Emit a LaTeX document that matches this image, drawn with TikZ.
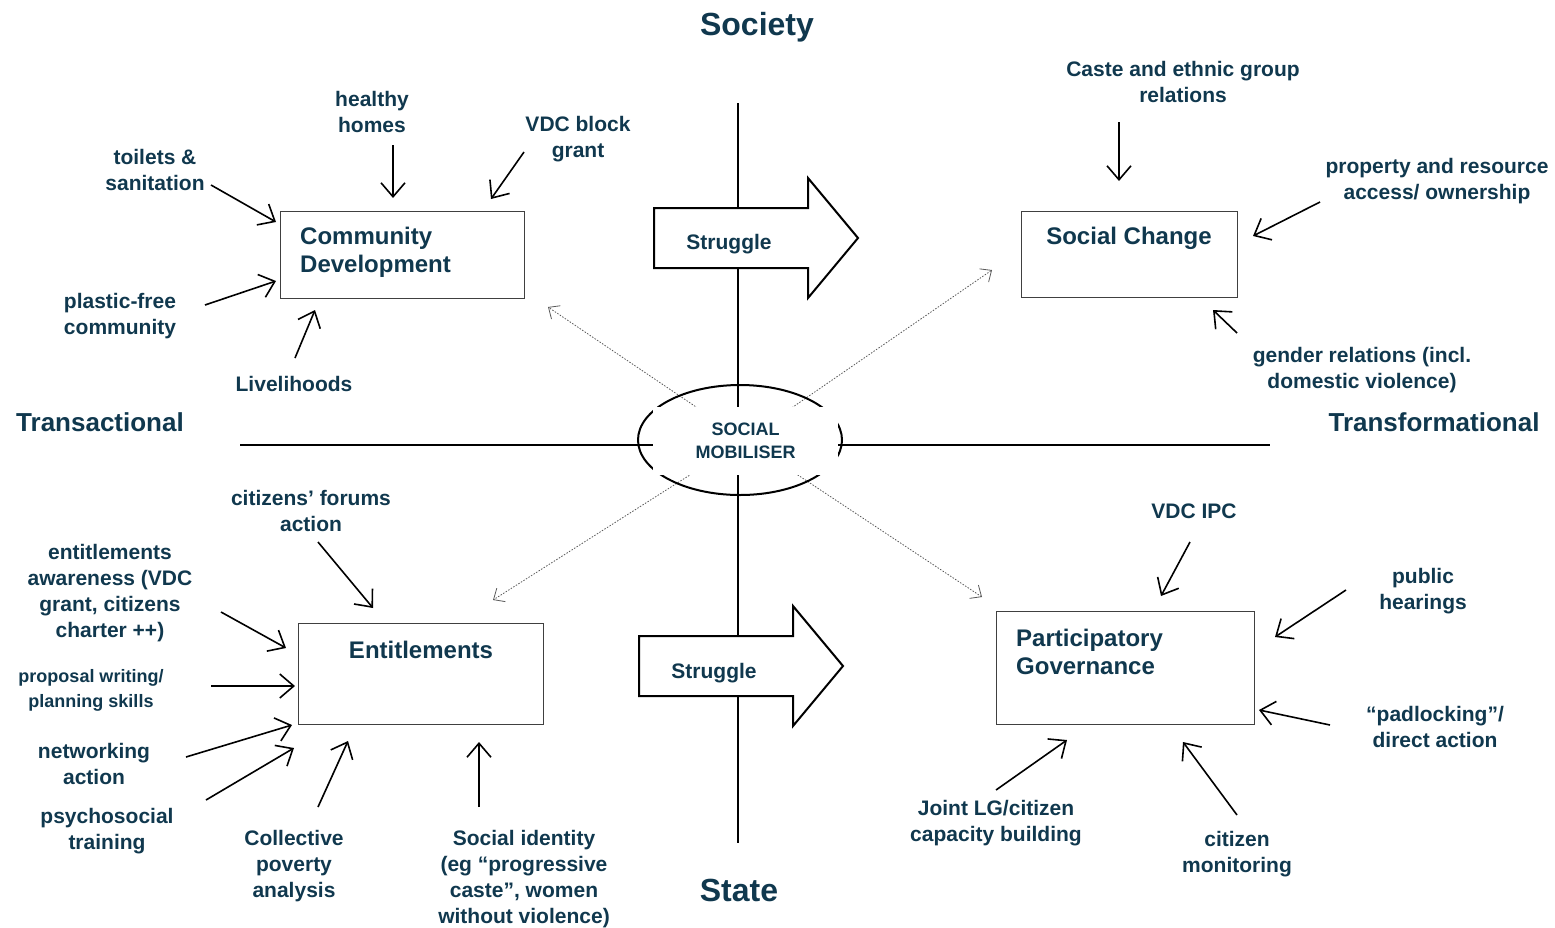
\documentclass[tikz,border=0pt]{standalone}
\usepackage{fontspec}
\setmainfont{Liberation Sans}
\usetikzlibrary{arrows.meta}
\definecolor{inkblue}{RGB}{16,56,78}

\begin{document}
\begin{tikzpicture}[x=1pt,y=-1pt]
\tikzset{box/.style = {draw=black!75, line width=1pt, fill=white, inner sep=0pt}}
\tikzset{boxtext/.style = {text=inkblue, font=\bfseries\fontsize{24}{28}\selectfont, inner sep=0pt, yshift=-1pt}}
\tikzset{lbl/.style = {text=inkblue, font=\bfseries\fontsize{21}{26}\selectfont, align=center, inner sep=0pt, yshift=-2pt}}
\tikzset{head/.style = {text=inkblue, font=\bfseries\fontsize{32}{38}\selectfont, inner sep=0pt, yshift=-3pt}}
\tikzset{side/.style = {text=inkblue, font=\bfseries\fontsize{26}{30}\selectfont, inner sep=0pt, yshift=-1pt}}
\tikzset{axis/.style = {line width=2pt}}
\tikzset{feed/.style = {line width=1.6pt, -{Straight Barb[length=14pt,width=24pt]}}}
\tikzset{reach/.style = {draw=black!65, line width=0.8pt, dash pattern=on 1.5pt off 1.5pt, -{Straight Barb[length=9pt,width=16pt,line width=0.8pt]}}}
\tikzset{struggle/.style = {draw, line width=2pt, fill=white}}

\useasboundingbox (0,0) rectangle (1555,927);

% axes
\coordinate (top) at (738,103);
\coordinate (bot) at (738,843);
\coordinate (left) at (240,445);
\coordinate (right) at (1270,445);
\draw[axis] (top) -- (bot);
\draw[axis] (left) -- (right);

\node[head] (society) at (757,24) {Society};
\node[head] (state) at (739,887) {State};
\node[side] (transac) at (100,421) {Transactional};
\node[side] (transf) at (1434,421) {Transformational};

% four boxes
\node[box, minimum width=244pt, minimum height=87pt] (cd) at (402,254.5) {};
\node[boxtext, align=left, anchor=west] (cdtxt) at (300,251) {Community\\Development};
\node[box, minimum width=216pt, minimum height=86pt] (sc) at (1129,254) {};
\node[boxtext] (sctxt) at (1129,237) {Social Change};
\node[box, minimum width=245pt, minimum height=101pt] (ent) at (420.5,673.5) {};
\node[boxtext] (enttxt) at (421,649) {Entitlements};
\node[box, minimum width=258pt, minimum height=113pt] (pg) at (1125,667.5) {};
\node[boxtext, align=left, anchor=west] (pgtxt) at (1016,651) {Participatory\\Governance};

% dotted reach from the mobiliser
\coordinate (smc) at (745,440);
\coordinate (cdtip) at (548,307);
\coordinate (sctip) at (992,270);
\coordinate (enttip) at (493,600);
\coordinate (pgtip) at (982,597);
\draw[reach] (smc) -- (cdtip);
\draw[reach] (smc) -- (sctip);
\draw[reach] (smc) -- (enttip);
\draw[reach] (smc) -- (pgtip);

% struggle arrows
\draw[struggle] (654,208) -- (808,208) -- (808,178) -- (858,238) -- (808,298) -- (808,268) -- (654,268) -- cycle;
\node[lbl] (str1) at (729,242) {Struggle};
\draw[struggle] (639,636) -- (793,636) -- (793,606) -- (843,666) -- (793,726) -- (793,696) -- (639,696) -- cycle;
\node[lbl] (str2) at (714,671) {Struggle};

% social mobiliser
\draw[line width=2pt] (740,440) ellipse [x radius=102, y radius=55];
\node[fill=white, text=inkblue, font=\bfseries\fontsize{18}{23}\selectfont, align=center, minimum width=185pt, minimum height=68pt, inner sep=0pt] (sm) at (745.5,441) {SOCIAL\\MOBILISER};

% community development inputs
\node[lbl] (homes) at (372,110) {healthy\\homes};
\node[lbl] (grant) at (578,137) {VDC block\\grant};
\node[lbl] (toilets) at (155,168) {toilets \&\\sanitation};
\node[lbl] (plastic) at (120,314) {plastic-free\\community};
\node[lbl] (liveli) at (294,382) {Livelihoods};
\coordinate (homes1) at (393,145); \coordinate (homes2) at (393,198);
\coordinate (grant1) at (524,152); \coordinate (grant2) at (491,199);
\coordinate (toilets1) at (211,185); \coordinate (toilets2) at (276,222);
\coordinate (plastic1) at (205,305); \coordinate (plastic2) at (276,281);
\coordinate (liveli1) at (295,358); \coordinate (liveli2) at (315,310);
\draw[feed] (homes1) -- (homes2);
\draw[feed] (grant1) -- (grant2);
\draw[feed] (toilets1) -- (toilets2);
\draw[feed] (plastic1) -- (plastic2);
\draw[feed] (liveli1) -- (liveli2);

% social change inputs
\node[lbl] (caste) at (1183,80) {Caste and ethnic group\\relations};
\node[lbl] (property) at (1437,179) {property and resource\\access/ ownership};
\node[lbl] (gender) at (1362,368) {gender relations (incl.\\domestic violence)};
\coordinate (caste1) at (1119,122); \coordinate (caste2) at (1119,181);
\coordinate (property1) at (1320,202); \coordinate (property2) at (1253,236);
\coordinate (gender1) at (1237,333); \coordinate (gender2) at (1213,310);
\draw[feed] (caste1) -- (caste2);
\draw[feed] (property1) -- (property2);
\draw[feed] (gender1) -- (gender2);

% entitlements inputs
\node[lbl] (forums) at (311,509) {citizens’ forums\\action};
\node[lbl] (aware) at (110,591) {entitlements\\awareness (VDC\\grant, citizens\\charter ++)};
\node[lbl, font=\bfseries\fontsize{18}{25}\selectfont] (proposal) at (91,688) {proposal writing/\\planning skills};
\node[lbl] (network) at (94,762) {networking\\action};
\node[lbl] (psycho) at (107,829) {psychosocial\\training};
\node[lbl] (poverty) at (294,864) {Collective\\poverty\\analysis};
\node[lbl] (identity) at (524,877) {Social identity\\(eg “progressive\\caste”, women\\without violence)};
\coordinate (forums1) at (318,542); \coordinate (forums2) at (373,608);
\coordinate (aware1) at (221,612); \coordinate (aware2) at (286,648);
\coordinate (proposal1) at (211,686); \coordinate (proposal2) at (295,686);
\coordinate (network1) at (186,757); \coordinate (network2) at (292,725);
\coordinate (psycho1) at (206,800); \coordinate (psycho2) at (294,748);
\coordinate (poverty1) at (318,807); \coordinate (poverty2) at (348,741);
\coordinate (identity1) at (479,807); \coordinate (identity2) at (479,742);
\draw[feed] (forums1) -- (forums2);
\draw[feed] (aware1) -- (aware2);
\draw[feed] (proposal1) -- (proposal2);
\draw[feed] (network1) -- (network2);
\draw[feed] (psycho1) -- (psycho2);
\draw[feed] (poverty1) -- (poverty2);
\draw[feed] (identity1) -- (identity2);

% participatory governance inputs
\node[lbl] (ipc) at (1194,509) {VDC IPC};
\node[lbl] (hearings) at (1423,589) {public\\hearings};
\node[lbl] (padlock) at (1435,725) {“padlocking”/\\direct action};
\node[lbl] (joint) at (996,821) {Joint LG/citizen\\capacity building};
\node[lbl] (monitor) at (1237,852) {citizen\\monitoring};
\coordinate (ipc1) at (1190,542); \coordinate (ipc2) at (1161,596);
\coordinate (hearings1) at (1346,590); \coordinate (hearings2) at (1275,637);
\coordinate (padlock1) at (1330,725); \coordinate (padlock2) at (1259,710);
\coordinate (joint1) at (996,790); \coordinate (joint2) at (1067,740);
\coordinate (monitor1) at (1237,815); \coordinate (monitor2) at (1183,742);
\draw[feed] (ipc1) -- (ipc2);
\draw[feed] (hearings1) -- (hearings2);
\draw[feed] (padlock1) -- (padlock2);
\draw[feed] (joint1) -- (joint2);
\draw[feed] (monitor1) -- (monitor2);

\end{tikzpicture}
\end{document}
